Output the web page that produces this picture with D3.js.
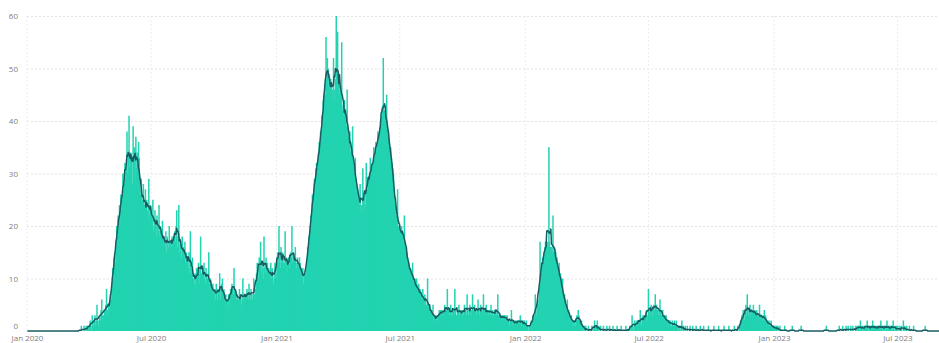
<!DOCTYPE html>
<html><head><meta charset="utf-8">
<script src="https://cdn.jsdelivr.net/npm/d3@7"></script>
<style>html,body{margin:0;padding:0;background:#fff;overflow:hidden}
text{font-family:"Segoe UI","Open Sans","DejaVu Sans",sans-serif}</style>
</head><body><svg id="chart" width="939" height="343"></svg>
<script>
// Daily values, one string per month, starting 1 Jan 2020
const startDate = Date.UTC(2020, 0, 1);
const endDate = Date.UTC(2023, 7, 31);
const daily2020 = [
"0 0 0 0 0 0 0 0 0 0 0 0 0 0 0 0 0 0 0 0 0 0 0 0 0 0 0 0 0 0 0",
"0 0 0 0 0 0 0 0 0 0 0 0 0 0 0 0 0 0 0 0 0 0 0 0 0 0 0 0 0",
"0 0 0 0 0 0 0 0 0 0 0 0 0 0 0 0 0 0 0 1 0 0 0 1 0 0 1 0 1 0 1",
"1 2 1 0 3 2 1 2 3 1 2 5 2 1 2 3 2 4 6 3 2 3 4 3 5 8 3 4 5 4",
"5 7 6 9 12 10 14 15 13 17 20 18 22 19 24 21 26 23 25 30 27 28 32 29 31 38 30 33 41 31 34",
"30 33 28 39 32 35 29 37 31 34 30 36 33 27 26 29 24 25 28 23 24 27 22 25 23 21 29 22 24 23",
"22 21 25 19 20 23 21 18 22 20 19 24 18 20 17 19 21 16 18 17 16 19 15 18 17 16 20 15 17 16 18",
"17 18 16 19 17 20 23 16 18 24 15 17 16 14 18 15 16 14 17 13 15 14 13 12 15 11 19 12 11 14 10",
"10 9 11 8 12 10 11 13 9 12 18 11 10 12 11 13 10 9 12 11 10 8 15 9 10 8 9 7 9 8",
"7 8 6 9 7 6 8 7 11 6 8 9 10 7 8 6 5 7 6 4 6 7 5 6 8 7 9 8 7 12 8",
"8 7 6 7 5 6 8 6 7 5 6 10 6 7 5 7 6 8 7 6 9 7 6 8 7 6 7 10 7 6",
"8 11 13 12 10 14 12 17 11 13 12 10 18 12 11 14 12 13 10 12 11 9 13 10 12 11 9 10 13 11 10"
];
const daily2021 = [
"14 15 13 20 14 12 16 13 15 14 12 13 19 12 14 11 13 14 12 13 15 14 20 13 15 12 14 16 13 12 14",
"13 12 14 13 12 11 10 12 9 11 10 11 12 13 16 15 18 17 20 22 21 26 24 27 29 26 31 32",
"31 30 34 36 33 38 37 41 39 44 42 47 45 56 48 52 50 47 49 45 48 47 44 46 52 44 46 48 60 43 57",
"48 47 45 46 44 55 42 43 41 44 40 42 39 46 38 37 36 38 34 35 33 39 32 31 30 33 29 28 27 26",
"25 24 28 23 24 22 31 25 23 26 24 32 26 27 29 28 30 33 29 31 32 30 35 33 34 36 35 34 38 36 37",
"38 40 39 41 43 52 40 42 41 40 45 39 38 37 36 34 35 33 32 31 30 27 25 24 22 21 27 20 19 20",
"19 18 20 19 18 17 22 16 15 16 15 14 13 12 11 12 11 10 13 10 9 10 9 8 10 8 7 9 7 8 7",
"7 6 8 6 5 7 6 5 4 10 5 4 5 4 3 4 3 5 2 3 2 3 2 3 2 3 4 3 4 3 4",
"3 4 3 5 4 3 4 8 3 4 3 4 5 3 4 3 4 3 8 4 3 3 4 4 5 3 4 3 4 3",
"4 3 5 4 4 3 7 4 3 4 5 4 3 4 7 4 3 5 4 4 3 4 6 4 3 4 5 4 4 3 7",
"4 3 4 5 3 4 3 4 4 3 5 3 4 3 3 4 3 4 3 4 7 3 2 3 3 2 3 3 2 3",
"3 2 3 2 3 2 2 1 2 2 4 2 1 2 2 1 2 2 1 2 2 1 2 3 2 1 2 1 2 2 1"
];
const daily2022 = [
"1 2 1 1 0 1 1 1 2 1 2 3 2 3 7 4 3 5 6 5 8 17 9 11 12 14 13 15 16 17 17",
"15 17 16 35 17 16 15 16 15 22 15 16 14 15 13 14 12 11 13 10 11 9 8 10 7 6 7 5",
"5 4 6 3 4 3 3 2 3 2 2 1 2 2 1 2 3 2 4 3 2 2 1 2 1 1 0 1 0 1 0",
"0 0 1 0 0 0 0 1 0 0 1 2 1 0 1 2 0 1 0 0 1 0 0 0 1 0 0 0 0 1",
"0 0 0 1 0 0 0 0 1 0 0 0 0 0 1 0 0 0 0 0 1 0 0 0 0 0 0 1 0 0 0",
"0 0 1 0 1 3 1 0 1 2 1 1 2 1 2 1 2 4 2 1 2 3 2 3 2 3 4 3 2 8",
"4 3 4 5 4 3 4 5 4 7 4 5 4 4 3 4 6 4 3 3 4 3 2 3 2 3 2 2 1 2 2",
"2 1 1 2 1 1 2 1 1 2 1 1 0 1 1 0 1 2 0 1 0 0 1 0 0 1 0 0 0 1 0",
"0 0 1 0 0 0 0 1 0 0 0 0 0 1 0 0 0 0 1 0 0 0 0 0 0 1 0 0 0 0",
"0 0 0 1 0 0 0 0 0 0 1 0 0 0 0 0 0 0 1 0 0 0 0 0 0 1 0 0 0 0 0",
"0 0 1 0 0 0 0 1 0 0 1 2 1 3 2 4 3 2 4 5 3 7 4 3 4 5 3 4 3 4",
"5 3 4 3 3 4 3 2 3 5 3 2 3 2 3 2 4 2 3 2 1 2 1 2 1 1 2 1 1 1 0"
];
const daily2023 = [
"1 0 1 1 0 1 0 0 1 0 0 0 0 0 0 1 0 0 0 0 0 0 0 0 0 0 1 0 0 0 0",
"0 0 0 0 0 0 0 0 1 0 0 0 0 0 0 0 0 0 0 0 0 0 0 0 0 0 0 0",
"0 0 0 0 0 0 0 0 0 0 0 0 0 0 0 0 0 1 0 0 0 0 0 0 0 0 0 0 0 0 0",
"0 0 0 0 0 1 0 0 0 0 1 0 0 0 0 1 0 0 1 0 0 0 1 0 0 1 0 0 0 1",
"0 1 0 1 1 0 2 0 1 0 1 0 1 1 0 1 2 1 0 1 0 1 1 0 2 1 0 1 1 0 1",
"1 0 1 1 0 2 1 0 1 0 1 1 0 1 2 0 1 0 1 1 0 1 0 2 1 0 1 0 1 0",
"1 0 0 1 0 1 0 0 2 0 1 0 0 1 0 0 0 1 0 0 0 0 0 1 0 0 0 0 0 0 0",
"0 0 0 0 0 0 0 0 0 1 0 0 0 0 0 0 0 0 0 0 0 0 0 0 0 0 0 0 0 0 0"
];
const yTicks = [0, 10, 20, 30, 40, 50, 60];
const xTickLabels = ["Jan 2020", "Jul 2020", "Jan 2021", "Jul 2021", "Jan 2022", "Jul 2022", "Jan 2023", "Jul 2023"];
const xTickDates = ["2020-01-01", "2020-07-01", "2021-01-01", "2021-07-01", "2022-01-01", "2022-07-01", "2023-01-01", "2023-07-01"];

const DAY = 86400000;
const values = [daily2020, daily2021, daily2022, daily2023]
  .flatMap(yr => yr.join(" ").trim().split(/\s+/).map(Number));
const data = values.map((v, i) => ({ date: new Date(startDate + i * DAY), value: v }));
// 7-day centred rolling average
data.forEach((d, i) => {
  const w = values.slice(Math.max(0, i - 3), Math.min(values.length, i + 4));
  d.avg = d3.mean(w);
});

const svg = d3.select("#chart");
const mLeft = 27, mRight = 939, mTop = 16, mBottom = 331;
const x = d3.scaleUtc().domain([new Date(startDate), new Date(endDate)]).range([mLeft, mRight]);
const y = d3.scaleLinear().domain([0, 60]).range([mBottom, mTop]);

// horizontal grid + y labels
const yAxis = svg.append("g").attr("transform", `translate(${mLeft},0)`)
  .call(d3.axisLeft(y).tickValues(yTicks).tickSize(-(mRight - mLeft)).tickPadding(9).tickFormat(d3.format("d")));
yAxis.select(".domain").remove();
yAxis.selectAll(".tick line").attr("stroke", "#e4e4e4").attr("stroke-dasharray", "2,2")
  .filter(d => d === 0).attr("stroke", "none");
yAxis.selectAll(".tick text").attr("fill", "#808080").attr("font-size", 8)
  .filter(d => d === 0).attr("dy", "-0.3em");

// vertical grid
const xt = xTickDates.map(s => new Date(s + "T00:00:00Z"));
svg.append("g").selectAll("line").data(xt).join("line")
  .attr("x1", d => x(d)).attr("x2", d => x(d)).attr("y1", mTop).attr("y2", mBottom)
  .attr("stroke", "#ececec").attr("stroke-dasharray", "2,2");

// bars
const step = x(new Date(startDate + DAY)) - x(new Date(startDate));
svg.append("g").selectAll("rect").data(data.filter(d => d.value > 0)).join("rect")
  .attr("x", d => x(d.date) - step * 0.4)
  .attr("y", d => y(d.value))
  .attr("width", step * 2.2)
  .attr("height", d => mBottom - y(d.value))
  .attr("fill", "#22d3b1");

// rolling average line
svg.append("path").datum(data)
  .attr("fill", "none").attr("stroke", "#175c63").attr("stroke-width", 1.5)
  .attr("stroke-linejoin", "round")
  .attr("d", d3.line().x(d => x(d.date) + step / 2).y(d => y(d.avg)));

// x axis labels
const xAxis = svg.append("g").attr("transform", `translate(0,${mBottom})`)
  .call(d3.axisBottom(x).tickValues(xt).tickSize(0).tickPadding(4)
    .tickFormat((d, i) => xTickLabels[i]));
xAxis.select(".domain").remove();
xAxis.selectAll(".tick text").attr("fill", "#808080").attr("font-size", 8);
</script>
</body></html>
